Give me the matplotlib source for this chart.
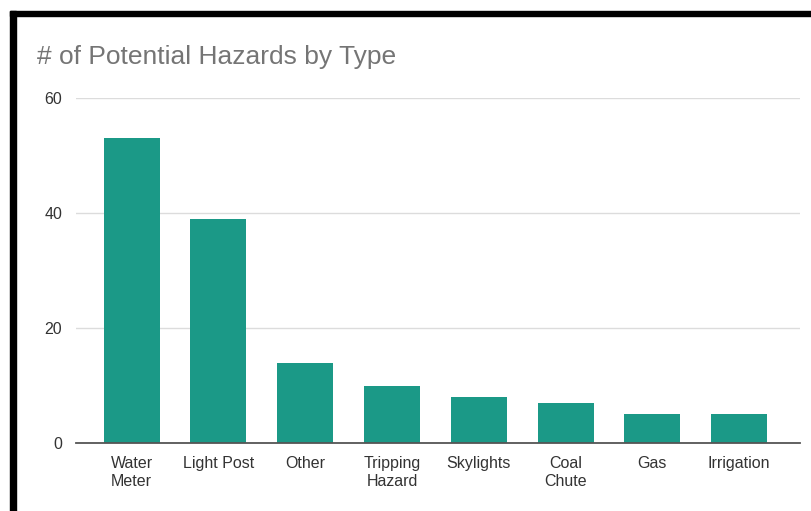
import matplotlib
matplotlib.use("Agg")
import matplotlib.pyplot as plt
from matplotlib.patches import Rectangle

categories = ["Water\nMeter", "Light Post", "Other", "Tripping\nHazard",
              "Skylights", "Coal\nChute", "Gas", "Irrigation"]
counts = [53, 39, 14, 10, 8, 7, 5, 5]
y_ticks = [0, 20, 40, 60]

W, H = 812, 511
fig = plt.figure(figsize=(W / 100, H / 100), dpi=100)
fig.patch.set_facecolor("white")

# axes placement in pixels: left 76, right 800, bottom (zero line) 443, top (60) 98
ax = fig.add_axes([76 / W, 1 - 443 / H, (800 - 76) / W, (443 - 98) / H])
ax.set_facecolor("white")

bar_color = "#1b9987"
x = list(range(len(categories)))
ax.bar(x, counts, width=0.645, color=bar_color, zorder=3)

ax.set_xlim(-0.64, 7.70)
ax.set_ylim(0, 60)
ax.set_yticks(y_ticks)
ax.set_yticklabels([str(v) for v in y_ticks])
ax.set_xticks(x)
ax.set_xticklabels(categories)

font = "Liberation Sans"
for lbl in ax.get_yticklabels():
    lbl.set_fontfamily(font)
    lbl.set_fontsize(11.5)
    lbl.set_color("#333333")
for lbl in ax.get_xticklabels():
    lbl.set_fontfamily(font)
    lbl.set_fontsize(11.5)
    lbl.set_color("#333333")
    lbl.set_linespacing(1.25)

ax.tick_params(axis="both", length=0)
ax.tick_params(axis="y", pad=10)
ax.tick_params(axis="x", pad=9)

ax.grid(axis="y", color="#dcdcdc", linewidth=1.0, zorder=0)
ax.set_axisbelow(True)
for side in ["top", "right", "left"]:
    ax.spines[side].set_visible(False)
ax.spines["bottom"].set_color("#555555")
ax.spines["bottom"].set_linewidth(1.3)
ax.spines["bottom"].set_zorder(4)

fig.text(37 / W, 1 - 57 / H, "# of Potential Hazards by Type",
         fontfamily=font, fontsize=19, color="#757575", va="center", ha="left")

# black frame along the left and top edges
fig.patches.append(Rectangle((10 / W, 0), 6 / W, 1 - 11 / H,
                             transform=fig.transFigure, color="black", zorder=10))
fig.patches.append(Rectangle((10 / W, 1 - 16 / H), 1 - 10 / W, 5 / H,
                             transform=fig.transFigure, color="black", zorder=10))

fig.savefig("out.png", dpi=100, facecolor="white")
